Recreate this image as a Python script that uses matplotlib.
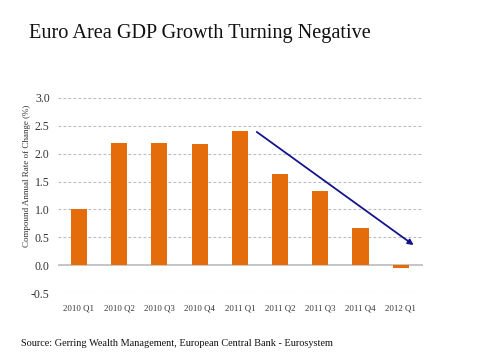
import matplotlib
matplotlib.use("Agg")
import matplotlib.pyplot as plt

quarters = ["2010 Q1", "2010 Q2", "2010 Q3", "2010 Q4", "2011 Q1",
            "2011 Q2", "2011 Q3", "2011 Q4", "2012 Q1"]
growth = [1.0, 2.19, 2.19, 2.17, 2.41, 1.64, 1.33, 0.66, -0.05]
arrow_start = (4.42, 2.39)
arrow_end = (8.32, 0.36)

plt.rcParams["font.family"] = ["Liberation Serif", "DejaVu Serif"]

fig = plt.figure(figsize=(4.8, 3.6), dpi=100)
ax = fig.add_axes([0.121, 0.186, 0.76, 0.542])

ax.bar(range(len(quarters)), growth, width=0.4, color="#E46C0A", zorder=3)

ax.set_ylim(-0.5, 3.0)
ax.set_xlim(-0.52, 8.55)
yt = [-0.5, 0.0, 0.5, 1.0, 1.5, 2.0, 2.5, 3.0]
ax.set_yticks(yt)
ax.set_yticklabels([f"{v:.1f}" for v in yt], fontsize=8.5, color="#333333")
ax.set_xticks(range(len(quarters)))
ax.set_xticklabels(quarters, fontsize=6.3, color="#333333")
ax.tick_params(axis="y", length=0, pad=6)
ax.tick_params(axis="x", length=0, pad=8)

for v in yt:
    if v == 0:
        ax.axhline(v, color="#BBBBBB", lw=1.2, zorder=2)
    else:
        ax.axhline(v, color="#BBBBBB", lw=0.8, ls=(0, (2.5, 2)), zorder=1)

for s in ax.spines.values():
    s.set_visible(False)

ax.set_ylabel("Compound Annual Rate of Change (%)", fontsize=6.5, color="#333333")
ax.yaxis.set_label_coords(-0.075, 0.6)

ax.annotate("", xy=arrow_end, xytext=arrow_start,
            arrowprops=dict(arrowstyle="-|>", color="#15158A", lw=1.3,
                            mutation_scale=8, shrinkA=0, shrinkB=0), zorder=4)

fig.text(0.06, 0.908, "Euro Area GDP Growth Turning Negative", fontsize=14.6,
         color="#111111", va="center")
fig.text(0.044, 0.045, "Source: Gerring Wealth Management, European Central Bank - Eurosystem",
         fontsize=7.4, color="#111111", va="center")

fig.savefig("out.png", dpi=100)
